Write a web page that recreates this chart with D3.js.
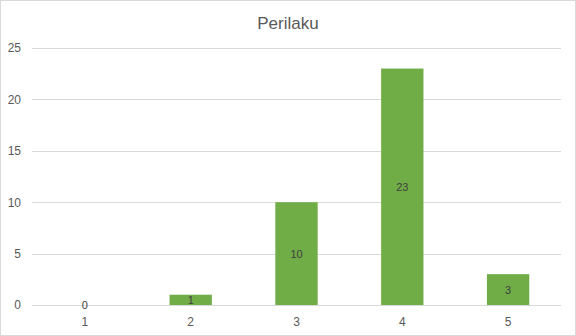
<html>
<head>
<title>Perilaku</title>
<script src="https://cdn.jsdelivr.net/npm/d3@7"></script>
<style>
  body { margin:0; padding:0; background:#fff; }
  svg text { font-family: "Liberation Sans", Arial, sans-serif; }
</style>
</head>
<body>
<svg id="chart" width="576" height="336"></svg>
<script>
var categories = ["1", "2", "3", "4", "5"];
var values = [0, 1, 10, 23, 3];
var yTicks = [0, 5, 10, 15, 20, 25];

var W = 576, H = 336;
var plotLeft = 32, plotRight = 561, plotTop = 48, plotBottom = 305;

var svg = d3.select('#chart');

// chart border
svg.append('rect')
  .attr('x', 0.5).attr('y', 0.5)
  .attr('width', W - 1).attr('height', H - 1)
  .attr('fill', '#fff').attr('stroke', '#d9d9d9');

svg.append('text')
  .attr('x', 288).attr('y', 29)
  .attr('text-anchor', 'middle')
  .attr('font-size', 17)
  .attr('fill', '#595959')
  .text('Perilaku');

var x = d3.scaleBand().domain(categories).range([plotLeft, plotRight]).paddingInner(0.6).paddingOuter(0.3);
var y = d3.scaleLinear().domain([0, 25]).range([plotBottom, plotTop]);

// gridlines
svg.append('g')
  .selectAll('line')
  .data(yTicks)
  .enter().append('line')
  .attr('x1', plotLeft).attr('x2', plotRight)
  .attr('y1', function(d) { return Math.round(y(d)) + 0.5; })
  .attr('y2', function(d) { return Math.round(y(d)) + 0.5; })
  .attr('stroke', '#d9d9d9');

// y axis labels
var yAxis = d3.axisLeft(y).tickValues(yTicks).tickSize(0).tickPadding(0);
svg.append('g')
  .attr('transform', 'translate(' + 21 + ',0)')
  .call(yAxis)
  .call(function(g) { g.select('.domain').remove(); })
  .selectAll('text')
  .attr('font-size', 12)
  .attr('fill', '#595959');

// bars
svg.append('g')
  .selectAll('rect')
  .data(values)
  .enter().append('rect')
  .attr('x', function(d, i) { return x(categories[i]); })
  .attr('y', function(d) { return y(d); })
  .attr('width', x.bandwidth())
  .attr('height', function(d) { return y(0) - y(d); })
  .attr('fill', '#70ad47');

// data labels
svg.append('g')
  .selectAll('text')
  .data(values)
  .enter().append('text')
  .attr('x', function(d, i) { return x(categories[i]) + x.bandwidth() / 2; })
  .attr('y', function(d) { return (y(d) + y(0)) / 2 + 4; })
  .attr('text-anchor', 'middle')
  .attr('font-size', 11)
  .attr('fill', '#404040')
  .text(function(d) { return d; });

// x axis labels
var xAxis = d3.axisBottom(x).tickSize(0).tickPadding(0);
svg.append('g')
  .attr('transform', 'translate(0,' + 326 + ')')
  .call(xAxis)
  .call(function(g) { g.select('.domain').remove(); })
  .selectAll('text')
  .attr('dy', 0)
  .attr('font-size', 12)
  .attr('fill', '#595959');
</script>
</body>
</html>
